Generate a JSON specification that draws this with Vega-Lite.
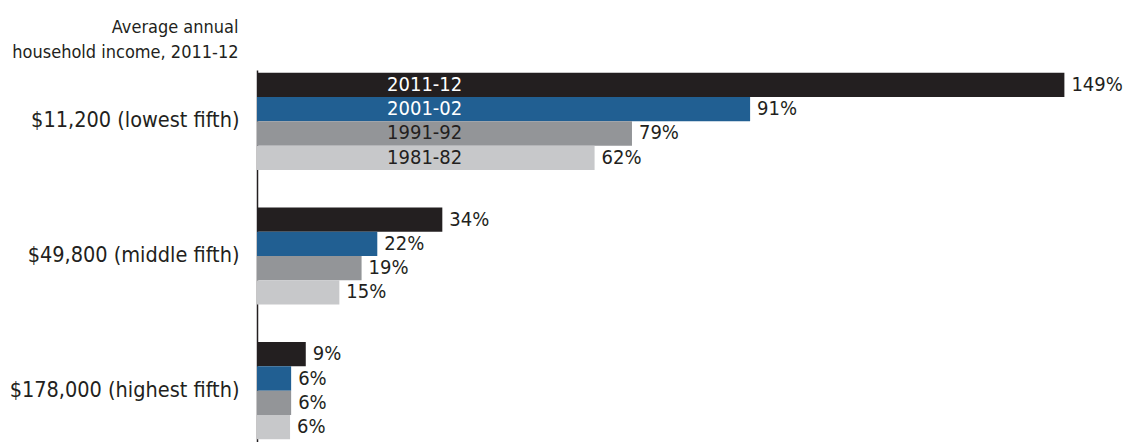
{
  "$schema": "https://vega.github.io/schema/vega-lite/v6.json",
  "width": 867,
  "height": 372,
  "autosize": {"type": "none"},
  "padding": {"left": 257, "top": 70, "right": 0, "bottom": 0},
  "background": "white",
  "config": {"view": {"stroke": null}, "font": "DejaVu Sans Condensed, sans-serif"},
  "data": {"values": [
    {"group": "$11,200 (lowest fifth)", "period": "2011-12", "value": 149, "label": "149%"},
    {"group": "$11,200 (lowest fifth)", "period": "2001-02", "value": 91, "label": "91%"},
    {"group": "$11,200 (lowest fifth)", "period": "1991-92", "value": 69.2, "label": "79%"},
    {"group": "$11,200 (lowest fifth)", "period": "1981-82", "value": 62.3, "label": "62%"},
    {"group": "$49,800 (middle fifth)", "period": "2011-12", "value": 34.2, "label": "34%"},
    {"group": "$49,800 (middle fifth)", "period": "2001-02", "value": 22.2, "label": "22%"},
    {"group": "$49,800 (middle fifth)", "period": "1991-92", "value": 19.3, "label": "19%"},
    {"group": "$49,800 (middle fifth)", "period": "1981-82", "value": 15.2, "label": "15%"},
    {"group": "$178,000 (highest fifth)", "period": "2011-12", "value": 9, "label": "9%"},
    {"group": "$178,000 (highest fifth)", "period": "2001-02", "value": 6.3, "label": "6%"},
    {"group": "$178,000 (highest fifth)", "period": "1991-92", "value": 6.3, "label": "6%"},
    {"group": "$178,000 (highest fifth)", "period": "1981-82", "value": 6.1, "label": "6%"}
  ]},
  "encoding": {
    "y": {
      "field": "group", "type": "nominal",
      "sort": ["$11,200 (lowest fifth)", "$49,800 (middle fifth)", "$178,000 (highest fifth)"],
      "scale": {"paddingInner": 0.278, "paddingOuter": 0.02},
      "axis": {
        "title": ["Average annual", "household income, 2011-12"],
        "titleAngle": 0, "titleAlign": "right", "titleBaseline": "alphabetic",
        "titleX": -19, "titleY": -38, "titleFontSize": 18, "titleFontWeight": "normal",
        "titleLineHeight": 25, "titleColor": "#231f20",
        "labelFontSize": 21.5, "labelColor": "#231f20", "labelPadding": 18, "labelLimit": 300,
        "ticks": false, "grid": false, "domain": true, "domainColor": "#231f20", "domainWidth": 1.5
      }
    },
    "yOffset": {
      "field": "period", "type": "nominal",
      "sort": ["2011-12", "2001-02", "1991-92", "1981-82"],
      "scale": {"paddingInner": 0, "paddingOuter": 0}
    }
  },
  "layer": [
    {
      "mark": {"type": "bar"},
      "encoding": {
        "x": {"field": "value", "type": "quantitative", "scale": {"domain": [0, 160]}, "axis": null},
        "color": {
          "field": "period", "type": "nominal",
          "scale": {"domain": ["2011-12", "2001-02", "1991-92", "1981-82"], "range": ["#231f20", "#215f92", "#939598", "#c7c8ca"]},
          "legend": null
        }
      }
    },
    {
      "mark": {"type": "text", "align": "left", "baseline": "middle", "dx": 7, "fontSize": 20, "fontWeight": "normal", "color": "#231f20"},
      "encoding": {
        "x": {"field": "value", "type": "quantitative"},
        "text": {"field": "label"}
      }
    },
    {
      "transform": [{"filter": "datum.group === '$11,200 (lowest fifth)'"}],
      "mark": {"type": "text", "align": "left", "baseline": "middle", "fontSize": 20},
      "encoding": {
        "x": {"datum": 24, "type": "quantitative"},
        "text": {"field": "period"},
        "color": {"condition": {"test": "datum.period === '2011-12' || datum.period === '2001-02'", "value": "white"}, "value": "#231f20"}
      }
    }
  ]
}
